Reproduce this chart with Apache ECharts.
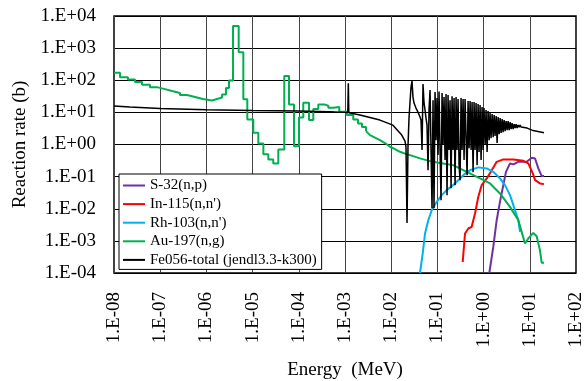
<!DOCTYPE html>
<html>
<head>
<meta charset="utf-8">
<script src="https://cdn.jsdelivr.net/npm/echarts@6/dist/echarts.min.js"></script>
<style>
html, body { margin: 0; padding: 0; background: #fff; }
#box { width: 585px; height: 381px; }
</style>
</head>
<body>
<div id="box"></div>
<script>
// tick labels (one per decade)
let xTickLabels = ['1.E-08','1.E-07','1.E-06','1.E-05','1.E-04','1.E-03','1.E-02','1.E-01','1.E+00','1.E+01','1.E+02'];
let yTickLabels = ['1.E-04','1.E-03','1.E-02','1.E-01','1.E+00','1.E+01','1.E+02','1.E+03','1.E+04'];

// [energy MeV, reaction rate b]
let s32 = [[1.33,1e-4],[1.62,6.5e-4],[1.92,4.4e-3],[2.26,0.0164],[2.67,0.0543],[3.05,0.141],[3.73,0.258],
  [4.4,0.24],[5.64,0.289],[6.68,0.289],[8.57,0.289],[11,0.385],[13,0.368],[15.3,0.18],[18.1,0.104],[20.3,0.104]];

let in115 = [[0.353,2.2e-4],[0.396,1.7e-3],[0.467,2.43e-3],[0.552,2.73e-3],[0.652,7.1e-3],[0.768,0.0235],
  [0.91,0.0543],[1.17,0.088],[1.5,0.159],[1.92,0.289],[2.67,0.344],[4.4,0.344],[7.23,0.31],[9.29,0.258],
  [11.6,0.126],[13,0.0778],[16.6,0.0614],[20.3,0.0584]];

let rh103 = [[4.2e-2,1e-4],[4.81e-2,4.05e-4],[5.4e-2,1.7e-3],[6.35e-2,4.4e-3],[7.53e-2,9.0e-3],[9.66e-2,0.0164],
  [0.124,0.0265],[0.159,0.038],[0.240,0.0614],[0.364,0.111],[0.508,0.159],[0.768,0.194],[1.17,0.18],
  [1.62,0.141],[2.26,0.088],[2.9,0.0543],[3.73,0.0265],[4.79,9.0e-3],[5.64,4.4e-3],[6.14,1.9e-3]];

// Au-197 histogram part (level starts at each energy)
let au197Step = [[1e-8,171],[1.35e-8,123],[2.0e-8,105],[2.85e-8,88],[4.04e-8,73],[6.0e-8,61],[8.5e-8,53],
  [1.27e-7,46],[1.8e-7,40],[2.68e-7,34.6],[3.8e-7,30],[5.67e-7,26],[8.4e-7,23.3],[1.32e-6,26],[1.7e-6,28.9],
  [2.18e-6,35.9],[2.65e-6,57],[3.08e-6,98],[3.77e-6,4880],[5.0e-6,740],[6.3e-6,25.4],[7.68e-6,6.05],
  [1.035e-5,2.31],[1.33e-5,1.08],[1.71e-5,0.50],[2.19e-5,0.344],[2.8e-5,0.258],[3.6e-5,0.70],[4.85e-5,135],
  [6.14e-5,17.7],[7.87e-5,0.89],[1.01e-4,6.98],[1.25e-4,19.9],[1.66e-4,5.75],[2.06e-4,12.7],[2.64e-4,17.7],
  [3.56e-4,16.1],[4.35e-4,13.9],[5.58e-4,14.6],[7.53e-4,10.4],[1.09e-3,8.24],[1.51e-3,6.05],[1.91e-3,4.54],
  [2.33e-3,3.48],[2.85e-3,2.61]];
let au197Line = [[2.85e-3,2.61],[3.48e-3,1.96],[4.46e-3,1.64],[5.72e-3,1.37],[7.34e-3,1.11],[9.4e-3,0.85],
  [1.21e-2,0.72],[1.55e-2,0.593],[1.99e-2,0.521],[2.55e-2,0.468],[4.2e-2,0.369],[6.92e-2,0.304],[0.114,0.264],
  [0.218,0.228],[0.431,0.141],[0.836,0.088],[1.38,0.0614],[2.26,0.030],[3.73,0.01146],[5.64,0.00442],
  [7.87,8.3e-4],[9.29,1.19e-3],[11.9,1.77e-3],[14.1,1.4e-3],[16.6,5.1e-4],[18.1,2.07e-4],[20.3,2.07e-4]];

let fe056 = [[1e-8,15.7],[2.2e-8,14.6],[1e-7,13.3],[1e-6,12.0],[1e-5,11.4],[1e-4,11.0],[4.7e-4,10.4],
  [1e-3,10.0],[1.15e-3,9.9],[1.18e-3,80],[1.21e-3,9.8],[2.1e-3,8.24],[5.7e-3,5.75],[1.09e-2,4.0],
  [1.69e-2,1.96],[1.99e-2,1.28],
  [0.0209,0.83],[0.0220,0.0036],[0.0231,0.89],[0.0243,6.65],[0.0268,60],[0.0282,94],[0.0296,30],
  [0.0312,19.5],[0.0344,13.6],[0.0380,10.2],[0.0421,7.14],[0.0442,5.76],[0.0465,0.67],[0.0488,76],
  [0.0513,20],[0.0540,11.8],[0.0567,6.65],[0.0596,4.0],[0.0627,0.159],[0.0659,11.8],
  [0.0693,49.5],[0.0728,0.67],[0.0765,0.0104],[0.0804,24],[0.0845,0.0104],[0.0889,42.9],[0.0934,1.37],
  [0.0982,27.9],[0.1032,0.47],[0.1085,45],[0.1141,0.67],[0.1199,0.0185],[0.1261,40],[0.1325,0.96],
  [0.1393,30],[0.1464,0.327],[0.1539,37],[0.1617,0.0265],[0.170,34.6],[0.1787,0.67],[0.1879,24],
  [0.1975,0.0438],[0.2075,32],[0.2181,0.67],[0.2293,28],[0.2411,0.0543],[0.2534,29.9],[0.2663,0.67],
  [0.2799,26],[0.2942,0.228],[0.3094,0.0778],[0.3252,27.9],[0.3418,0.67],[0.3593,26],[0.3777,0.327],
  [0.3971,26],
  [0.417,24.2],[0.439,0.111],[0.461,22.5],[0.485,0.77],[0.510,22.5],[0.536,0.67],[0.563,21.0],
  [0.592,0.138],[0.622,21.0],[0.654,0.67],[0.687,19.5],[0.723,0.228],[0.759,18.2],[0.798,0.58],
  [0.839,16.9],[0.882,0.327],[0.927,14.6],[0.975,0.67],[1.02,13.6],[1.08,0.958],[1.13,11.8],[1.19,0.58],
  [1.25,11.0],[1.32,1.37],[1.38,9.5],[1.45,1.58],[1.53,8.85],[1.61,1.70],[1.69,8.24],[1.77,1.83],
  [1.87,7.67],[1.96,1.11],[2.06,7.14],[2.17,2.11],[2.28,6.65],[2.39,2.27],[2.52,6.19],[2.64,2.43],
  [2.78,5.76],[2.92,2.61],[3.07,5.36],[3.23,2.81],[3.39,5.36],[3.57,2.81],[3.75,4.99],[3.94,3.02],
  [4.14,4.64],[4.35,3.02],[4.58,4.32],[4.81,3.24],[5.06,4.32],[5.32,3.24],[5.59,4.02],[5.87,3.48],
  [6.18,4.02],[6.49,3.48],[6.82,3.74],
  [8.76,3.24],[11.8,2.71],[20.3,2.32]];

let font = "'Liberation Serif', 'Times New Roman', serif";

function expLabel(list, minExp) {
    return function (v) {
        let e = Math.round(Math.log10(v));
        return list[e - minExp] || '';
    };
}

let chart = echarts.init(document.getElementById('box'));

let lineSeries = function (name, data, color, width) {
    return {
        name: name,
        type: 'line',
        data: data,
        showSymbol: false,
        symbol: 'none',
        lineStyle: { color: color, width: width },
        itemStyle: { color: color },
        emphasis: { disabled: true },
        animation: false
    };
};

let auStep = lineSeries('Au-197(n,g)', au197Step, '#00B050', 2);
auStep.step = 'end';

let option = {
    backgroundColor: '#fff',
    animation: false,
    grid: {
        left: 114, right: 9, top: 16, bottom: 108,
        outerBoundsMode: 'none',
        show: true, borderColor: '#000', borderWidth: 1.5
    },
    legend: {
        orient: 'vertical',
        left: 119, top: 174,
        backgroundColor: '#fff',
        borderColor: '#000',
        borderWidth: 1,
        borderRadius: 0,
        padding: [4, 5, 2, 4],
        itemGap: 3.6,
        itemWidth: 22,
        itemHeight: 2,
        icon: 'rect',
        textStyle: { fontFamily: font, fontSize: 15, color: '#000', lineHeight: 15 },
        data: ['S-32(n,p)', "In-115(n,n')", "Rh-103(n,n')", 'Au-197(n,g)', 'Fe056-total (jendl3.3-k300)']
    },
    xAxis: {
        type: 'log', logBase: 10, min: 1e-8, max: 1e2, interval: 1,
        name: 'Energy  (MeV)', nameLocation: 'middle', nameGap: 88,
        nameTextStyle: { fontFamily: font, fontSize: 19, color: '#000' },
        axisLine: { show: false },
        axisTick: { show: false },
        minorTick: { show: false },
        axisLabel: { rotate: 90, margin: 19, interval: 0, fontFamily: font, fontSize: 19, color: '#000',
            formatter: expLabel(xTickLabels, -8) },
        splitLine: { show: true, interval: 0, lineStyle: { color: '#444', width: 1 } }
    },
    yAxis: {
        type: 'log', logBase: 10, min: 1e-4, max: 1e4, interval: 1,
        name: 'Reaction rate (b)', nameLocation: 'middle', nameGap: 84, nameRotate: 90,
        nameTextStyle: { fontFamily: font, fontSize: 19, color: '#000' },
        axisLine: { show: false },
        axisTick: { show: false },
        axisLabel: { margin: 18, fontFamily: font, fontSize: 19, color: '#000',
            formatter: expLabel(yTickLabels, -4) },
        splitLine: { show: true, lineStyle: { color: '#000', width: 1 } }
    },
    series: [
        lineSeries('S-32(n,p)', s32, '#7030A0', 2),
        lineSeries("In-115(n,n')", in115, '#FF0000', 2),
        lineSeries("Rh-103(n,n')", rh103, '#00B0F0', 2),
        auStep,
        lineSeries('Au-197(n,g)', au197Line, '#00B050', 2),
        lineSeries('Fe056-total (jendl3.3-k300)', fe056, '#000000', 1.5)
    ]
};

chart.setOption(option);
</script>
</body>
</html>
